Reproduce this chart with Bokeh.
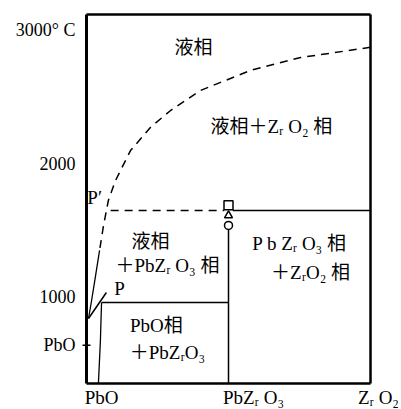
from bokeh.plotting import figure
from bokeh.models import Range1d, FixedTicker
from bokeh.embed import file_html
from bokeh.resources import INLINE
from bokeh.core.properties import value

# x: composition (mol% ZrO2; PbO = 0, PbZrO3 = 50, ZrO2 = 100); y: temperature (deg C, schematic)
temp_ticks = [3000, 2000, 1000, 640]
temp_tick_labels = ["3000° C", "2000", "1000", "PbO"]
comp_positions = [0, 50, 100]
comp_labels = ["PbO", "PbZᵣ O₃", "Zᵣ O₂"]

# diagram box
box_x = [0, 100]
box_t = [354, 3118]

# liquidus (dashed upper part, solid lower part to P)
liq_dash_x = [100, 75.4, 57.7, 40.1, 29.6, 22.5, 15.5, 10.2, 7.7, 6.0, 4.6]
liq_dash_t = [2872, 2796, 2699, 2549, 2399, 2272, 2099, 1874, 1725, 1538, 1351]
liq_solid_x = [4.6, 3.2, 1.8, 0.7]
liq_solid_t = [1351, 1163, 976, 841]

# peritectic line of PbZrO3 (incongruent melting at P')
peri_t = 1650
peri_dash_x = [8.5, 48.5]
peri_solid_x = [51.5, 100]

# line through P
eut_t = 961
eut_x = [5.3, 50]

# PbO-rich solid solution boundary
ss_x = [5.3, 4.9, 4.2]
ss_t = [961, 676, 354]

# PbZrO3 compound line
cmp_x = 50
cmp_t = [1508, 354]

# pointer from label P
ptr_x = [0.7, 7.0]
ptr_t = [841, 1036]

# PbO melting tick
tick_x = [-1.4, 1.4]

# experimental markers at PbZrO3
mk_square_t = 1689
mk_triangle_t = 1613
mk_circle_t = 1538

region_texts = ["液相", "液相＋Zᵣ O₂ 相", "液相", "＋PbZᵣ O₃ 相", "PbO相", "＋PbZᵣO₃", "P b Zᵣ O₃ 相", "＋ZᵣO₂ 相"]
region_x = [37.7, 65.1, 22.5, 28.5, 24.6, 28.5, 75.0, 78.9]
region_t = [2871, 2279, 1418, 1238, 790, 588, 1403, 1185]

point_texts = ["P′", "P"]
point_x = [2.9, 11.6]
point_t = [1748, 1066]

comp_label_x = [5.3, 58.8, 102.8]
comp_label_t = 249

FONT = "Liberation Serif, Noto Sans CJK SC"

p = figure(width=400, height=408, output_backend="svg", toolbar_location=None,
           x_range=Range1d(-2.11, 110.56), y_range=Range1d(167, 3178),
           x_axis_location=None, min_border=0, min_border_left=80, min_border_right=0,
           min_border_top=6, min_border_bottom=0)
p.grid.visible = False
p.outline_line_color = None
p.background_fill_color = "white"
p.border_fill_color = "white"

ya = p.yaxis[0]
ya.ticker = FixedTicker(ticks=temp_ticks)
ya.major_label_overrides = {t: l for t, l in zip(temp_ticks, temp_tick_labels)}
ya.axis_line_color = None
ya.major_tick_in = 0
ya.major_tick_out = 0
ya.major_label_standoff = 5
ya.major_label_text_font = FONT
ya.major_label_text_font_size = "18px"
ya.major_label_text_color = "black"

# box
p.line([box_x[0], box_x[0]], box_t, line_color="black", line_width=3)
p.line([box_x[1], box_x[1]], box_t, line_color="black", line_width=2.5)
p.line(box_x, [box_t[0], box_t[0]], line_color="black", line_width=2.5)
p.line(box_x, [box_t[1], box_t[1]], line_color="black", line_width=2.5)

p.line(tick_x, [temp_ticks[3], temp_ticks[3]], line_color="black", line_width=1.5)

p.line(liq_dash_x, liq_dash_t, line_color="black", line_width=1.5, line_dash="8 6")
p.line(liq_solid_x, liq_solid_t, line_color="black", line_width=1.3)
p.line(peri_dash_x, [peri_t, peri_t], line_color="black", line_width=1.5, line_dash="8 6")
p.line(peri_solid_x, [peri_t, peri_t], line_color="black", line_width=1.5)
p.line(eut_x, [eut_t, eut_t], line_color="black", line_width=1.5)
p.line(ss_x, ss_t, line_color="black", line_width=1.3)
p.line([cmp_x, cmp_x], cmp_t, line_color="black", line_width=1.5)
p.line(ptr_x, ptr_t, line_color="black", line_width=1.5)

p.scatter([cmp_x], [mk_square_t], marker="square", size=9, fill_color=None, line_color="black", line_width=1.5)
p.scatter([cmp_x], [mk_triangle_t], marker="triangle", size=8, fill_color=None, line_color="black", line_width=1.5)
p.scatter([cmp_x], [mk_circle_t], marker="circle", size=8, fill_color=None, line_color="black", line_width=1.5)

p.text(region_x, region_t, text=region_texts, text_font=value(FONT), text_font_size="19px",
       text_align="center", text_baseline="middle", text_color="black")
p.text(point_x, point_t, text=point_texts, text_font=value(FONT), text_font_size="19px",
       text_align="center", text_baseline="middle", text_color="black")
p.text(comp_label_x, [comp_label_t] * 3, text=comp_labels, text_font=value(FONT), text_font_size="19px",
       text_align="center", text_baseline="middle", text_color="black")

open("out.html", "w").write(file_html(p, INLINE))
